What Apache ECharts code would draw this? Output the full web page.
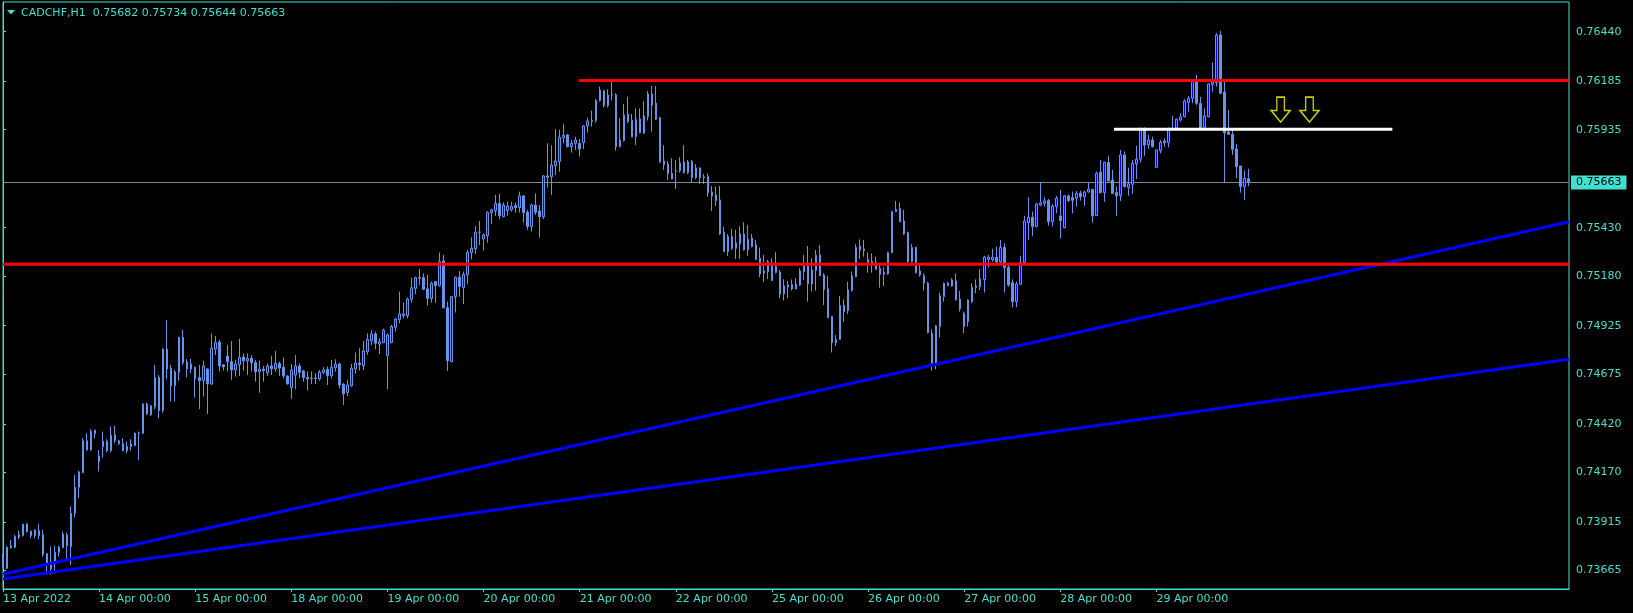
<!DOCTYPE html>
<html><head><meta charset="utf-8">
<script src="https://cdn.jsdelivr.net/npm/echarts@6/dist/echarts.min.js"></script>
<style>html,body{margin:0;padding:0;background:#000;}#c{width:1633px;height:613px;}</style>
</head><body><div id="c"></div><script>
const symbolName = 'CADCHF,H1';
const headerQuote = ['0.75682', '0.75734', '0.75644', '0.75663'];
const days = ['13 Apr','14 Apr','15 Apr','18 Apr','19 Apr','20 Apr','21 Apr','22 Apr','25 Apr','26 Apr','27 Apr','28 Apr','29 Apr'];
const firstLabel = '13 Apr 2022';

const opens = [
.73736,.73676,.73791,.73784,.73837,.73844,.73903,.73867,.73844,.73869,
.73848,.73750,.73671,.73705,.73757,.73782,.73848,.73788,.73959,.74093,
.74169,.74332,.74285,.74387,.74225,.74303,.74330,.74282,.74363,.74332,
.74318,.74282,.74303,.74308,.74371,.74371,.74521,.74466,
.74508,.74659,.74488,.74805,.74706,.74616,.74685,.74865,.74738,.74702,
.74711,.74658,.74642,.74702,.74625,.74805,.74841,.74723,.74769,.74740,
.74697,.74725,.74764,.74744,.74757,.74735,.74689,.74702,.74683,.74718,
.74702,.74731,.74711,.74666,.74606,.74671,.74718,.74692,.74659,.74654,.74656,
.74651,.74684,.74701,.74668,.74709,.74728,.74624,.74581,.74615,.74702,
.74733,.74720,.74792,.74848,.74883,.74830,.74838,.74771,.74838,.74917,
.74958,.74977,.74977,.75061,.75118,.75170,.75173,.75115,.75065,.75152,
.75132,.75259,.75018,.74740,.75075,.75175,.75121,.75187,.75302,.75321,
.75407,.75372,.75389,.75508,.75518,.75556,.75487,.75518,.75522,.75544,
.75534,.75594,.75510,.75436,.75547,.75516,.75487,.75697,.75693,.75750,
.75771,.75894,.75908,.75848,.75865,.75865,.75868,.75954,.75983,.75982,
.76085,.76135,.76059,.76114,.76114,.75848,.75879,.76016,.75982,.75899,
.75990,.75917,.76002,.76119,.76071,.75997,.75774,.75758,.75710,.75724,
.75724,.75769,.75714,.75771,.75688,.75738,.75692,.75693,.75614,.75599,
.75573,.75407,.75307,.75384,.75324,.75346,.75398,.75316,.75377,.75341,
.75273,.75195,.75204,.75158,.75230,.75202,.75089,.75135,.75137,.75115,
.75135,.75204,.75233,.75140,.75209,.75290,.75187,.75115,.74972,.74838,
.74855,.75030,.75003,.75106,.75178,.75336,.75321,.75250,.75255,.75250,
.75221,.75190,.75192,.75302,.75513,.75530,.75465,.75406,.75255,.75329,
.75207,.75183,.75144,.74886,.74732,.74921,.75075,.75144,.75130,.75156,
.75063,.74921,.74946,.75049,.75130,.75127,.75163,.75266,.75266,.75276,
.75254,.75328,.75226,.75147,.75049,.75139,.75250,.75456,.75484,.75436,
.75547,.75556,.75570,.75461,.75539,.75491,.75431,.75594,.75585,.75582,
.75609,.75590,.75614,.75628,.75492,.75716,.75611,.75767,.75676,.75611,
.75595,.75805,.75638,.75654,.75759,.75783,.75934,.75858,.75882,.75740,
.75827,.75877,.75868,.75937,.75942,.75985,.76002,.76076,.76097,.76183,
.76071,.75947,.76002,.76169,.76178,.76423,.76129,.75923,.75911,.75836,
.75748,.75642,.75682];

const highs = [
.73750,.73788,.73822,.73848,.73870,.73904,.73908,.73869,.73877,.73903,
.73873,.73753,.73788,.73791,.73791,.73865,.73860,.73994,.74157,.74179,
.74346,.74371,.74392,.74388,.74285,.74380,.74340,.74406,.74409,.74337,
.74346,.74328,.74340,.74375,.74380,.74526,.74529,.74517,
.74723,.74671,.74809,.74955,.74723,.74697,.74869,.74903,.74752,.74754,
.74714,.74723,.74745,.74706,.74886,.74872,.74852,.74728,.74826,.74846,
.74749,.74857,.74783,.74783,.74774,.74749,.74745,.74718,.74731,.74769,
.74795,.74740,.74762,.74670,.74728,.74774,.74731,.74697,.74690,.74690,.74680,
.74697,.74711,.74715,.74749,.74752,.74735,.74629,.74646,.74728,.74787,
.74809,.74847,.74886,.74903,.74895,.74860,.74910,.74886,.74929,.74963,
.75101,.75044,.75070,.75173,.75178,.75218,.75195,.75187,.75152,.75156,
.75302,.75290,.75049,.75079,.75178,.75207,.75204,.75315,.75381,.75439,
.75465,.75401,.75513,.75527,.75599,.75604,.75561,.75564,.75564,.75559,
.75616,.75599,.75522,.75553,.75607,.75547,.75702,.75865,.75856,.75939,
.75934,.75965,.75913,.75882,.75899,.75887,.75959,.75997,.76033,.76092,
.76157,.76140,.76143,.76183,.76123,.75994,.76068,.76105,.76016,.76045,
.76045,.76083,.76134,.76160,.76160,.76001,.75856,.75774,.75788,.75779,
.75793,.75856,.75779,.75779,.75758,.75741,.75707,.75710,.75645,.75642,
.75645,.75436,.75398,.75424,.75419,.75436,.75458,.75444,.75398,.75367,
.75328,.75290,.75264,.75273,.75304,.75212,.75164,.75156,.75164,.75170,
.75221,.75290,.75336,.75273,.75315,.75341,.75195,.75182,.74976,.74878,
.75079,.75061,.75152,.75204,.75345,.75370,.75367,.75303,.75298,.75281,
.75238,.75226,.75307,.75518,.75568,.75561,.75522,.75410,.75346,.75333,
.75238,.75195,.75152,.74907,.74929,.75096,.75147,.75152,.75170,.75195,
.75104,.74998,.75061,.75144,.75164,.75216,.75285,.75290,.75321,.75333,
.75367,.75350,.75250,.75164,.75152,.75285,.75492,.75587,.75513,.75559,
.75664,.75587,.75578,.75552,.75594,.75625,.75599,.75602,.75616,.75619,
.75621,.75621,.75662,.75628,.75719,.75779,.75770,.75800,.75728,.75642,
.75831,.75822,.75740,.75779,.75851,.75947,.75947,.75908,.75899,.75834,
.75882,.75890,.75947,.76006,.75992,.76020,.76092,.76109,.76188,.76217,
.76105,.76045,.76174,.76281,.76432,.76444,.76183,.76037,.75934,.75862,
.75748,.75724,.75734];

const lows = [
.73681,.73671,.73776,.73779,.73825,.73839,.73860,.73830,.73830,.73825,
.73736,.73642,.73642,.73650,.73736,.73779,.73722,.73693,.73939,.74037,
.74165,.74282,.74282,.74346,.74174,.74246,.74273,.74272,.74320,.74311,
.74277,.74268,.74282,.74303,.74234,.74368,.74467,.74461,
.74496,.74448,.74477,.74649,.74534,.74534,.74642,.74723,.74659,.74680,
.74555,.74496,.74560,.74470,.74620,.74774,.74689,.74694,.74689,.74646,
.74663,.74666,.74694,.74671,.74689,.74637,.74580,.74637,.74666,.74671,
.74689,.74666,.74654,.74623,.74548,.74597,.74654,.74637,.74591,.74625,.74625,
.74642,.74677,.74620,.74654,.74689,.74603,.74517,.74563,.74611,.74677,
.74694,.74697,.74775,.74826,.74804,.74780,.74835,.74599,.74835,.74895,
.74938,.74963,.74963,.75044,.75087,.75135,.75109,.75029,.75044,.75044,
.75127,.75015,.74692,.74737,.74993,.75075,.75037,.75140,.75267,.75295,
.75341,.75312,.75353,.75449,.75491,.75475,.75484,.75492,.75513,.75508,
.75508,.75456,.75419,.75410,.75496,.75379,.75475,.75637,.75599,.75702,
.75719,.75865,.75844,.75817,.75831,.75796,.75836,.75920,.75951,.75971,
.76080,.76050,.76050,.76085,.75827,.75844,.75874,.75968,.75896,.75856,
.75917,.75913,.75982,.75925,.75985,.75765,.75728,.75676,.75681,.75630,
.75714,.75710,.75707,.75662,.75680,.75656,.75656,.75590,.75516,.75542,
.75393,.75307,.75285,.75316,.75269,.75269,.75312,.75285,.75329,.75264,
.75175,.75152,.75166,.75156,.75195,.75067,.75055,.75067,.75106,.75113,
.75130,.75161,.75049,.75101,.75106,.75183,.75032,.74963,.74787,.74821,
.74852,.74946,.74986,.75101,.75175,.75269,.75281,.75199,.75199,.75212,
.75121,.75130,.75187,.75298,.75510,.75458,.75393,.75250,.75250,.75195,
.75178,.75106,.74886,.74694,.74701,.74864,.75049,.75130,.75126,.75055,
.74998,.74886,.74921,.75041,.75092,.75109,.75096,.75226,.75255,.75247,
.75247,.75096,.75127,.75020,.75020,.75135,.75247,.75367,.75388,.75432,
.75542,.75539,.75441,.75436,.75504,.75376,.75427,.75564,.75504,.75539,
.75570,.75542,.75611,.75456,.75491,.75607,.75564,.75668,.75604,.75491,
.75568,.75638,.75595,.75604,.75681,.75765,.75801,.75836,.75843,.75740,
.75814,.75848,.75844,.75934,.75942,.75977,.75999,.76028,.76071,.76062,
.75934,.75942,.75999,.76131,.76157,.76119,.75664,.75908,.75805,.75685,
.75611,.75573,.75644];

const closes = [
.73685,.73784,.73782,.73839,.73848,.73903,.73865,.73844,.73872,.73844,
.73748,.73693,.73710,.73757,.73784,.73851,.73791,.73959,.74093,.74172,
.74334,.74285,.74380,.74370,.74255,.74330,.74282,.74361,.74334,.74318,
.74282,.74304,.74316,.74371,.74373,.74521,.74471,.74512,
.74659,.74488,.74805,.74702,.74616,.74687,.74865,.74735,.74702,.74728,
.74651,.74642,.74718,.74625,.74809,.74838,.74718,.74713,.74740,.74697,
.74728,.74762,.74744,.74756,.74735,.74689,.74701,.74694,.74718,.74704,
.74731,.74707,.74666,.74625,.74697,.74718,.74685,.74658,.74651,.74653,.74653,
.74685,.74697,.74668,.74711,.74727,.74620,.74574,.74620,.74706,.74732,
.74725,.74795,.74855,.74883,.74835,.74842,.74903,.74878,.74921,.74960,
.74986,.74986,.75063,.75121,.75173,.75173,.75113,.75065,.75144,.75132,
.75255,.75018,.74745,.75075,.75175,.75127,.75190,.75303,.75324,.75406,
.75408,.75393,.75510,.75522,.75556,.75492,.75547,.75542,.75539,.75534,
.75594,.75508,.75436,.75547,.75510,.75487,.75697,.75690,.75752,.75774,
.75896,.75906,.75848,.75865,.75882,.75836,.75954,.75980,.75978,.76085,
.76140,.76059,.76114,.76116,.75848,.75882,.76011,.75977,.75899,.75989,
.75920,.76006,.76119,.76062,.75989,.75769,.75755,.75710,.75681,.75721,
.75764,.75714,.75769,.75688,.75738,.75688,.75688,.75611,.75594,.75570,
.75398,.75307,.75384,.75324,.75352,.75398,.75316,.75370,.75333,.75268,
.75192,.75207,.75255,.75233,.75199,.75089,.75130,.75125,.75115,.75140,
.75207,.75233,.75140,.75212,.75288,.75183,.75113,.74967,.74838,.74855,
.75030,.74998,.75109,.75182,.75329,.75315,.75312,.75267,.75247,.75216,
.75190,.75200,.75303,.75513,.75525,.75461,.75398,.75255,.75329,.75199,
.75187,.75144,.74890,.74732,.74924,.75079,.75144,.75132,.75161,.75058,
.75012,.74989,.75058,.75123,.75123,.75166,.75279,.75278,.75278,.75254,
.75328,.75225,.75135,.75049,.75140,.75250,.75465,.75484,.75436,.75552,
.75558,.75568,.75461,.75542,.75582,.75467,.75594,.75570,.75571,.75607,
.75590,.75614,.75628,.75492,.75710,.75611,.75767,.75671,.75607,.75595,
.75805,.75642,.75656,.75762,.75783,.75934,.75856,.75882,.75848,.75831,
.75870,.75868,.75934,.75941,.75989,.76001,.76083,.76097,.76183,.76071,
.75942,.76006,.76171,.76181,.76423,.76123,.75920,.75911,.75834,.75745,
.75642,.75685,.75663];

const yTickValues = [0.73665,0.73915,0.74170,0.74420,0.74675,0.74925,0.75180,0.75430,0.75935,0.76185,0.76440];
const lastPrice = 0.75663;
const bidLine = [[0, lastPrice], [391, lastPrice]];
const trendLines = [
  [[0, 0.73645], [391, 0.75461]],
  [[0, 0.73620], [391, 0.74752]]
];
const supportLine = [[0, 0.75242], [391, 0.75242]];
const resistanceLine = [[143.7, 0.76188], [391, 0.76188]];
const breakLine = [[277.4, 0.75937], [346.9, 0.75937]];
const arrowMarks = [[319, 0.76039], [326.2, 0.76039]];

const N_SLOTS = 392;
const categories = [];
days.forEach(d => { for (let h = 0; h < 24; h++) categories.push(d + ' ' + String(h).padStart(2, '0') + ':00'); });
while (categories.length < N_SLOTS) categories.push('');
const candles = opens.map((o, i) => [o, closes[i], lows[i], highs[i]]);

const TQ = '#40E0D0';
const FONT = 'DejaVu Sans';
const showDay = (i, v) => v !== '' && i % 24 === 0;

const chart = echarts.init(document.getElementById('c'), null, {renderer: 'canvas'});
chart.setOption({
  backgroundColor: '#000',
  animation: false,
  grid: {left: 3, top: 2, width: 1566, height: 587, show: true, borderColor: TQ, borderWidth: 1, backgroundColor: 'transparent', containLabel: false},
  graphic: [
    {type: 'polygon', shape: {points: [[7, 10], [15, 10], [11, 14.5]]}, style: {fill: TQ}},
    {type: 'text', x: 21, y: 13, style: {text: symbolName + '  ' + headerQuote.join(' '), fill: TQ, font: '11px "DejaVu Sans"', verticalAlign: 'middle'}}
  ],
  xAxis: [
    {type: 'category', data: categories, boundaryGap: false,
     axisLine: {show: true, lineStyle: {color: TQ}},
     axisTick: {show: true, length: 3, interval: showDay, lineStyle: {color: TQ}},
     axisLabel: {interval: showDay, formatter: (v, i) => i === 0 ? firstLabel : v, align: 'left', color: TQ, fontFamily: FONT, fontSize: 11, margin: 5},
     splitLine: {show: false}},
    {type: 'value', min: 0, max: N_SLOTS - 1, show: false, splitLine: {show: false}}
  ],
  yAxis: {type: 'value', position: 'right', min: 0.735687, max: 0.76593, scale: true,
    splitLine: {show: false},
    axisLine: {show: true, lineStyle: {color: TQ}},
    axisTick: {show: true, length: 3, customValues: yTickValues, lineStyle: {color: TQ}},
    axisLabel: {customValues: yTickValues, formatter: v => Number(v).toFixed(5), color: TQ, fontFamily: FONT, fontSize: 11, margin: 7}},
  series: [
    {type: 'line', xAxisIndex: 1, data: bidLine, symbol: 'none', z: 1, clip: false,
     lineStyle: {color: '#778899', width: 1},
     endLabel: {show: true, distance: 2, formatter: () => lastPrice.toFixed(5), color: '#000', backgroundColor: TQ, padding: [1, 5, 1, 5], lineHeight: 12, fontFamily: FONT, fontSize: 11}},
    {type: 'candlestick', xAxisIndex: 0, data: candles, barWidth: 2, z: 2,
     itemStyle: {color: '#0000FF', color0: '#6495ED', borderColor: '#6495ED', borderColor0: '#6495ED', borderWidth: 1}},
    {type: 'line', xAxisIndex: 1, data: trendLines[0], symbol: 'none', z: 4, lineStyle: {color: '#0000FF', width: 3}},
    {type: 'line', xAxisIndex: 1, data: trendLines[1], symbol: 'none', z: 4, lineStyle: {color: '#0000FF', width: 3}},
    {type: 'line', xAxisIndex: 1, data: supportLine, symbol: 'none', z: 4, lineStyle: {color: '#FF0000', width: 3}},
    {type: 'line', xAxisIndex: 1, data: resistanceLine, symbol: 'none', z: 4, lineStyle: {color: '#FF0000', width: 3}},
    {type: 'line', xAxisIndex: 1, data: breakLine, symbol: 'none', z: 4, lineStyle: {color: '#FFFFFF', width: 3}},
    {type: 'scatter', xAxisIndex: 1, data: arrowMarks, z: 5,
     symbol: 'path://M6,0 L14,0 L14,14 L20,14 L10,26 L0,14 L6,14 Z', symbolSize: [19, 25],
     itemStyle: {color: '#000', borderColor: '#FFFF00', borderWidth: 1.5}}
  ]
});
</script></body></html>
